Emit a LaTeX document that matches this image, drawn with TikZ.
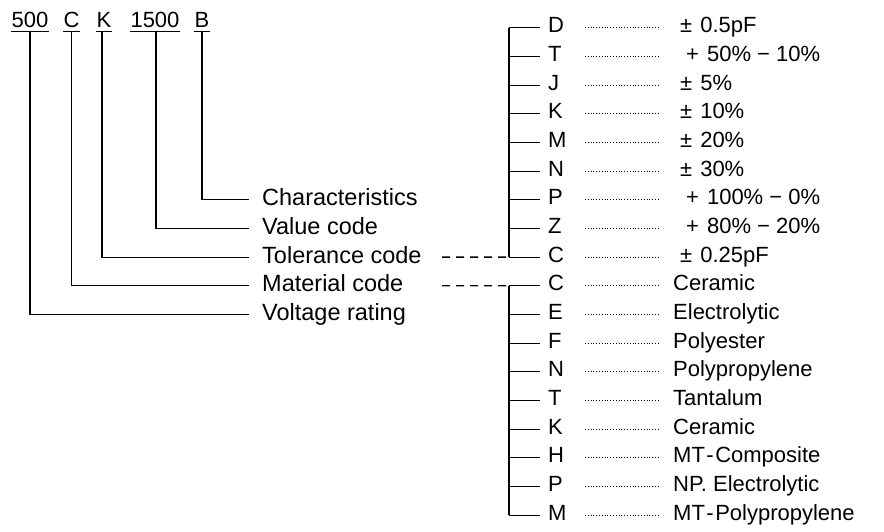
\documentclass[tikz,border=0pt]{standalone}
\usepackage{fontspec}
\setmainfont{Liberation Sans}
\usetikzlibrary{calc,positioning}
\newcommand\pmgap{±\kern8pt}
\tikzset{
  token/.style={inner xsep=0pt, inner ysep=4pt, text depth=0pt, anchor=base,
    font=\fontsize{22}{26}\selectfont},
  part label/.style={inner sep=0pt, anchor=base west, font=\fontsize{23.5}{28}\selectfont},
  code letter/.style={inner sep=0pt, anchor=base west, font=\fontsize{22}{26}\selectfont},
  code value/.style={inner sep=0pt, anchor=base west, font=\fontsize{22}{26}\selectfont},
  link/.style={line width=1.1pt},
  leader/.style={line width=0.9pt, dash pattern=on 0.9pt off 1.9pt},
  jump/.style={line width=1.3pt, dash pattern=on 8pt off 6pt}
}

\begin{document}
\begin{tikzpicture}[x=1pt,y=-1pt]
  \useasboundingbox (0,0) rectangle (884,531);

  \node[token] (volt) at (30,27) {500};
  \node[token] (mat) at (71.5,27) {C};
  \node[token] (tol) at (104,27) {K};
  \node[token] (val) at (155,27) {1500};
  \node[token] (chr) at (202,27) {B};
  \foreach \n in {volt,mat,tol,val,chr}
    \draw[link] (\n.south west) -- (\n.south east);

  \node[part label] (lchr) at (262,205.8) {Characteristics};
  \node[part label] (lval) at (262,234.5) {Value code};
  \node[part label] (ltol) at (262,263.1) {Tolerance code};
  \node[part label] (lmat) at (262,291.8) {Material code};
  \node[part label] (lvolt) at (262,320.5) {Voltage rating};
  \draw[link] (volt.south) |- ([xshift=-13pt,yshift=6pt]lvolt.base west);
  \draw[link] (mat.south) |- ([xshift=-13pt,yshift=6pt]lmat.base west);
  \draw[link] ([xshift=-2pt]tol.south) |- ([xshift=-13pt,yshift=6pt]ltol.base west);
  \draw[link] ([xshift=1pt]val.south) |- ([xshift=-13pt,yshift=6pt]lval.base west);
  \draw[link] (chr.south) |- ([xshift=-13pt,yshift=6pt]lchr.base west);

  % tolerance codes
  \foreach \c/\v [count=\i from 0] in {D/{\pmgap 0.5pF},T/{\kern6pt+\kern8pt50\% − 10\%},
      J/{\pmgap 5\%},K/{\pmgap 10\%},M/{\pmgap 20\%},N/{\pmgap 30\%},
      P/{\kern6pt+\kern8pt100\% − 0\%},Z/{\kern6pt+\kern8pt80\% − 20\%},C/{\pmgap 0.25pF}}
  {
    \pgfmathsetmacro\y{27.7+28.68*\i}
    \coordinate (tb\i) at (509,\y);
    \node[code letter] (t\i) at (548,\y+5) {\c};
    \node[code value] (tv\i) at (680,\y+5) {\v};
    \draw[link] (tb\i) -- ([xshift=-8pt,yshift=5pt]t\i.base west);
    \draw[leader] ([xshift=37pt,yshift=5pt]t\i.base west) -- ([xshift=-20pt,yshift=5pt]tv\i.base west);
  }
  \draw[link] (tb0) -- (tb8);

  % material codes
  \foreach \c/\v [count=\i from 0] in {C/Ceramic,E/Electrolytic,F/Polyester,N/Polypropylene,
      T/Tantalum,K/Ceramic,H/{MT\kern1.5pt-\kern1.5pt Composite},P/{NP. Electrolytic},
      M/{MT\kern1.5pt-\kern1.5pt Polypropylene}}
  {
    \pgfmathsetmacro\y{27.7+28.68*(\i+9)}
    \coordinate (mb\i) at (509,\y);
    \node[code letter] (m\i) at (548,\y+5) {\c};
    \node[code value] (mv\i) at (673,\y+5) {\v};
    \draw[link] (mb\i) -- ([xshift=-8pt,yshift=5pt]m\i.base west);
    \draw[leader] ([xshift=37pt,yshift=5pt]m\i.base west) -- ([xshift=-13pt,yshift=5pt]mv\i.base west);
  }
  \draw[link] (mb0) -- (mb8);

  \coordinate (tol dash) at (442,257.1);
  \coordinate (mat dash) at (442,285.8);
  \draw[jump] (tol dash) -- (tb8);
  \draw[jump] (mat dash) -- (mb0);
\end{tikzpicture}
\end{document}
